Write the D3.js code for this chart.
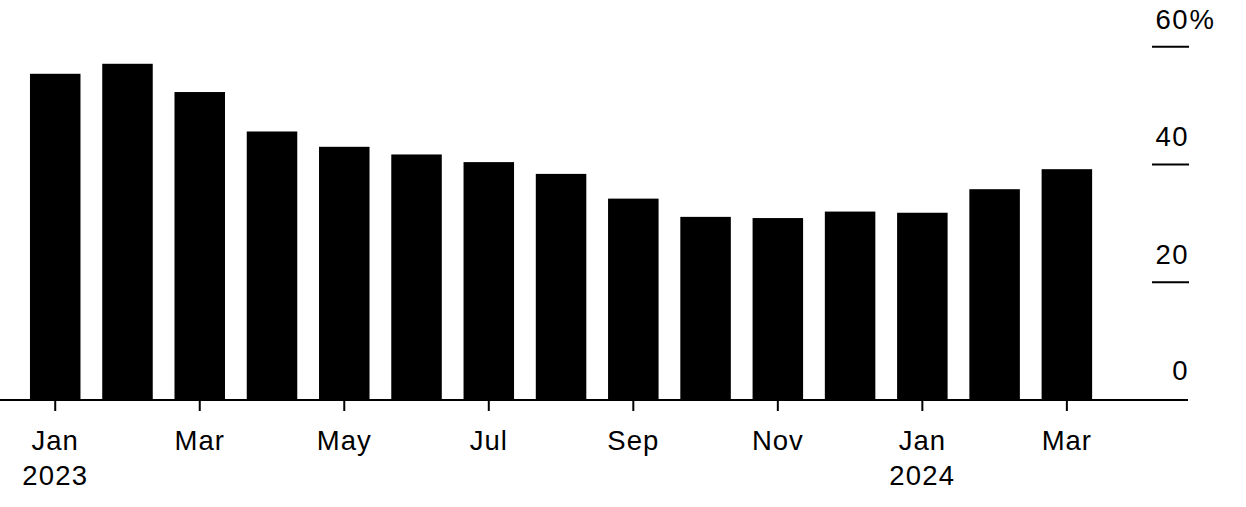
<!DOCTYPE html>
<html>
<head>
<meta charset="utf-8">
<script src="https://cdn.jsdelivr.net/npm/d3@7"></script>
<style>
  html, body { margin: 0; padding: 0; background: #fff; }
  svg { display: block; }
  text { font-family: "Liberation Sans", Arial, sans-serif; fill: #000; }
</style>
</head>
<body>
<svg id="chart" width="1246" height="507"></svg>
<script>
const categories = ["2023-01","2023-02","2023-03","2023-04","2023-05","2023-06","2023-07","2023-08","2023-09","2023-10","2023-11","2023-12","2024-01","2024-02","2024-03"];
const values = [55.4, 57.1, 52.3, 45.6, 43.0, 41.7, 40.4, 38.4, 34.2, 31.1, 30.9, 32.0, 31.8, 35.8, 39.2];
const xTickLabels = [
  ["2023-01", "Jan", "2023"],
  ["2023-03", "Mar", ""],
  ["2023-05", "May", ""],
  ["2023-07", "Jul", ""],
  ["2023-09", "Sep", ""],
  ["2023-11", "Nov", ""],
  ["2024-01", "Jan", "2024"],
  ["2024-03", "Mar", ""]
];
const yTicks = [0, 20, 40, 60];

const svg = d3.select("#chart");
const fontSize = 27.5;

const x = d3.scaleBand()
  .domain(categories)
  .range([19.1, 19.1 + 15 * 72.26])
  .paddingInner(0.301)
  .paddingOuter(0.1505);

const y = d3.scaleLinear().domain([0, 60]).range([400, 46.7]);

// bars
svg.append("g").selectAll("rect")
  .data(values)
  .join("rect")
  .attr("x", (d, i) => x(categories[i]))
  .attr("width", x.bandwidth())
  .attr("y", d => y(d))
  .attr("height", d => y(0) - y(d))
  .attr("fill", "#000");

// y ticks (short lines) and labels
const yg = svg.append("g");
yTicks.forEach(t => {
  if (t !== 0) {
    yg.append("line")
      .attr("x1", 1152).attr("x2", 1189)
      .attr("y1", y(t)).attr("y2", y(t))
      .attr("stroke", "#000").attr("stroke-width", 2);
  }
  yg.append("text")
    .attr("x", 1189)
    .attr("y", y(t) - (t === 0 ? 20 : 18))
    .attr("text-anchor", "end")
    .style("font-size", fontSize + "px")
    .style("letter-spacing", "1.5px")
    .text(t);
  if (t === 60) {
    yg.append("text")
      .attr("x", 1189.5)
      .attr("y", y(t) - 18)
      .attr("text-anchor", "start")
      .style("font-size", fontSize + "px")
      .text("%");
  }
});

// x axis
const xAxis = d3.axisBottom(x)
  .tickValues(xTickLabels.map(d => d[0]))
  .tickSize(11)
  .tickFormat("");
const xg = svg.append("g").attr("transform", `translate(0,${y(0)})`).call(xAxis);
xg.select(".domain").remove();
xg.selectAll(".tick line").attr("stroke", "#000").attr("stroke-width", 2);

svg.append("line")
  .attr("x1", 0).attr("x2", 1188)
  .attr("y1", y(0)).attr("y2", y(0))
  .attr("stroke", "#000").attr("stroke-width", 2);

const lbl = svg.append("g");
xTickLabels.forEach(([k, m, yr]) => {
  const cx = x(k) + x.bandwidth() / 2;
  lbl.append("text")
    .attr("x", cx).attr("y", 450)
    .attr("text-anchor", "middle")
    .style("font-size", fontSize + "px")
    .style("letter-spacing", "1px")
    .text(m);
  if (yr) {
    lbl.append("text")
      .attr("x", cx).attr("y", 485)
      .attr("text-anchor", "middle")
      .style("font-size", fontSize + "px")
      .style("letter-spacing", "1.2px")
      .text(yr);
  }
});
</script>
</body>
</html>
